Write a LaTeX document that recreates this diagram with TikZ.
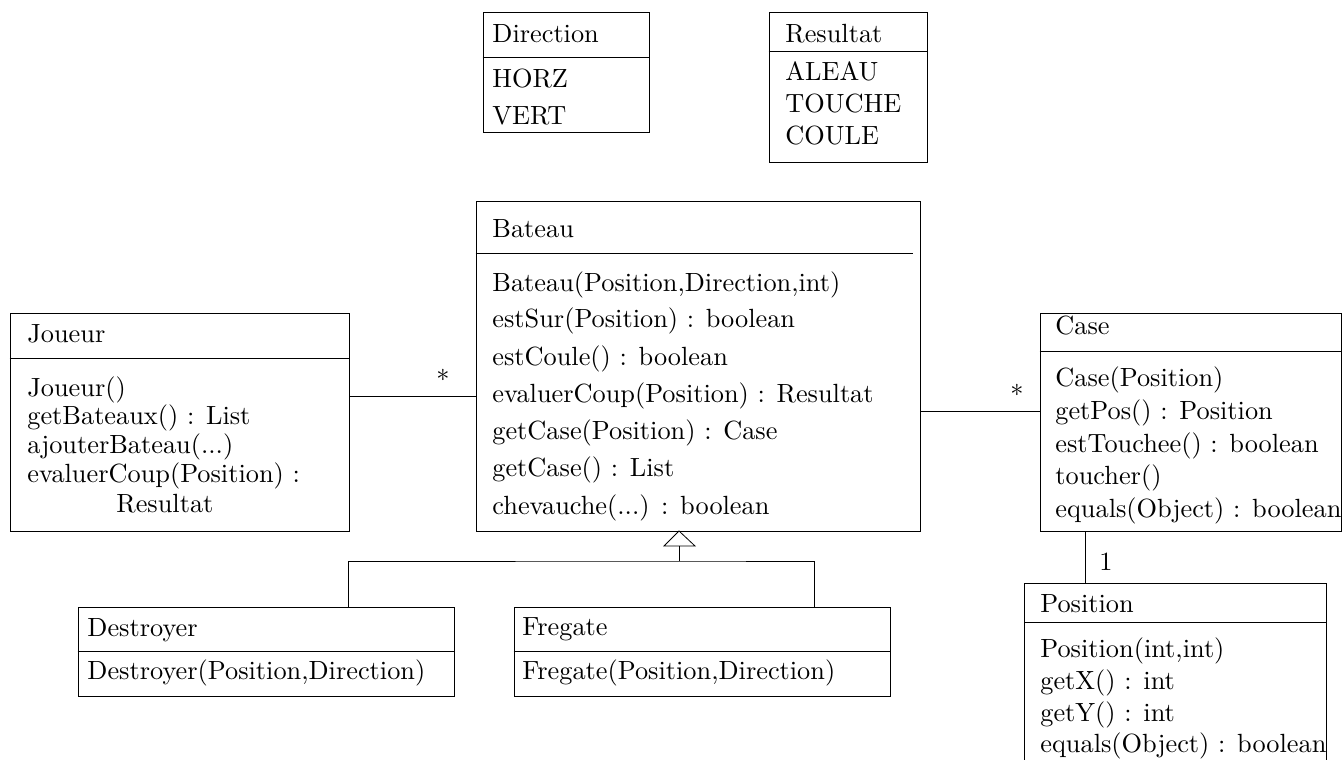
\documentclass[tikz,border=0pt]{standalone}
\usetikzlibrary{fit}
\begin{document}
\begin{tikzpicture}[x=0.38pt,y=-0.38pt,line width=0.3pt,
  txt/.style={anchor=base west,inner sep=0pt,font=\fontsize{10}{12}\selectfont},
  mult/.style={inner sep=0pt,font=\fontsize{10}{12}\selectfont},
  box/.style={draw,inner sep=0pt},
  frame/.style={inner sep=0pt},
  conn/.style={draw}]
\clip (0,0) rectangle (1343,760);
% ---------- Direction ----------
\node[box,fit={(483,12) (649,132)}] (direction) {};
\coordinate (dirsep) at (0,57);
\draw (direction.west |- dirsep) -- (direction.east |- dirsep);
\node[txt] (dirT) at (492,43) {Direction};
\foreach \y/\t [count=\i] in {88/HORZ,125/VERT}
  \node[txt] (dir\i) at (492,\y) {\t};
% ---------- Resultat ----------
\node[box,fit={(769,12) (927,162)}] (resultat) {};
\coordinate (ressep) at (0,51);
\draw (resultat.west |- ressep) -- (resultat.east |- ressep);
\node[txt] (resT) at (785,43) {Resultat};
\foreach \y/\t [count=\i] in {81/ALEAU,113/TOUCHE,145/COULE}
  \node[txt] (res\i) at (785,\y) {\t};
% ---------- Bateau ----------
\node[box,fit={(476,201) (920,531)}] (bateau) {};
\coordinate (batsep) at (913,253);
\draw (bateau.west |- batsep) -- (batsep);
\node[txt] (batT) at (492,238) {Bateau};
\foreach \y/\t [count=\i] in {292/{Bateau(Position,Direction,int)},
    328/{estSur(Position) : boolean},
    366/{estCoule() : boolean},
    403/{evaluerCoup(Position) : Resultat},
    440/{getCase(Position) : Case},
    477/{getCase() : List},
    515/{chevauche(...) : boolean}}
  \node[txt] (bat\i) at (492,\y) {\t};
% ---------- Joueur ----------
\node[box,fit={(10,313) (349,531)}] (joueur) {};
\coordinate (jousep) at (0,358);
\draw (joueur.west |- jousep) -- (joueur.east |- jousep);
\node[txt] (jouT) at (27,343) {Joueur};
\foreach \y/\t [count=\i] in {397/{Joueur()},
    425/{getBateaux() : List},
    454/{ajouterBateau(...)},
    483/{evaluerCoup(Position) :}}
  \node[txt] (jou\i) at (27,\y) {\t};
\node[txt] (jou5) at (116,513) {Resultat};
% ---------- Case ----------
\node[box,fit={(1040,313) (1341,531)}] (case) {};
\coordinate (casesep) at (0,351);
\draw (case.west |- casesep) -- (case.east |- casesep);
\node[txt] (caseT) at (1055,335) {Case};
\foreach \y/\t [count=\i] in {387/{Case(Position)},
    420/{getPos() : Position},
    453/{estTouchee() : boolean},
    485/{toucher()},
    518/{equals(Object) : boolean}}
  \node[txt] (case\i) at (1055,\y) {\t};
% ---------- Position ----------
\node[frame,fit={(1025,584) (1326,760)}] (position) {};
\draw (position.south west) |- (position.north east) -- (position.south east);
\coordinate (possep) at (0,622);
\draw (position.west |- possep) -- (position.east |- possep);
\node[txt] (posT) at (1040,613) {Position};
\foreach \y/\t [count=\i] in {658/{Position(int,int)},
    690/{getX() : int},
    722/{getY() : int},
    753/{equals(Object) : boolean}}
  \node[txt] (pos\i) at (1040,\y) {\t};
% ---------- Destroyer ----------
\node[box,fit={(78,607) (454,696)}] (destroyer) {};
\coordinate (dessep) at (0,651);
\draw (destroyer.west |- dessep) -- (destroyer.east |- dessep);
\node[txt] (desT) at (87,637) {Destroyer};
\node[txt] (des1) at (87,680) {Destroyer(Position,Direction)};
% ---------- Fregate ----------
\node[box,fit={(514,607) (890,696)}] (fregate) {};
\coordinate (fresep) at (0,651);
\draw (fregate.west |- fresep) -- (fregate.east |- fresep);
\node[txt] (freT) at (522,636) {Fregate};
\node[txt] (fre1) at (522,680) {Fregate(Position,Direction)};
% ---------- Associations ----------
\coordinate (jb) at (0,396);
\draw[conn] (joueur.east |- jb) -- (bateau.west |- jb);
\node[mult] (m1) at (443,375) {$*$};
\coordinate (bc) at (0,411);
\draw[conn] (bateau.east |- bc) -- (case.west |- bc);
\node[mult] (m2) at (1017,390) {$*$};
\coordinate (cp) at (1085,0);
\draw[conn] (case.south -| cp) -- (position.north -| cp);
\node[mult] (m3) at (1106,562) {1};
% ---------- Inheritance ----------
\coordinate (tip) at (679,531);
\coordinate (tbase) at (679,546);
\coordinate (inh) at (679,561);
\draw[conn] (tip) -- (664,546) -- (695,546) -- cycle;
\draw[conn] (tbase) -- (inh);
\coordinate (dx) at (348,0);
\coordinate (fx) at (814,0);
\draw[conn] (destroyer.north -| dx) |- (inh) -| (fregate.north -| fx);
\end{tikzpicture}
\end{document}
